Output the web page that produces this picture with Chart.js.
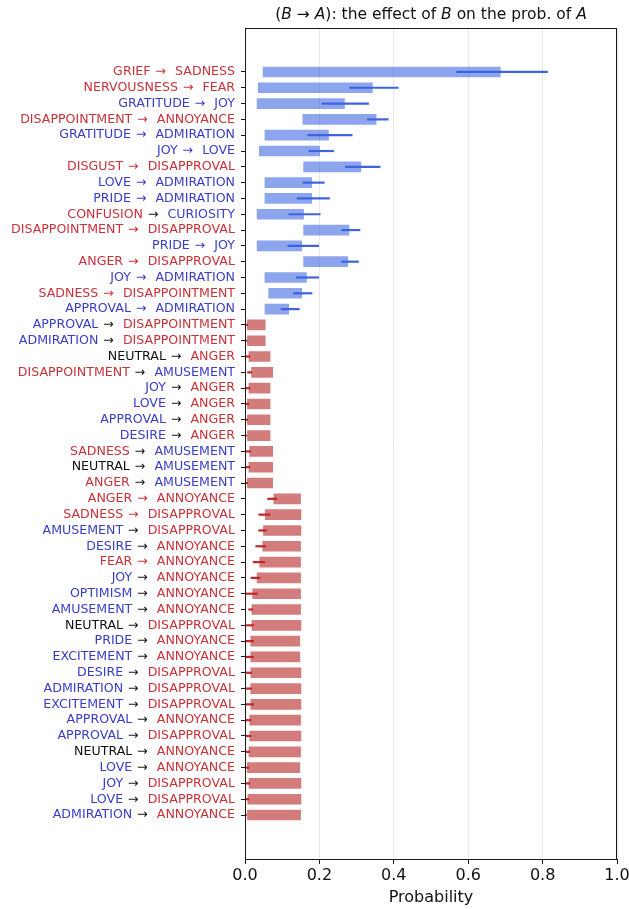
<!DOCTYPE html>
<html lang="en">
<head>
<meta charset="UTF-8">
<title>(B → A): the effect of B on the prob. of A</title>
<script src="https://cdn.jsdelivr.net/npm/chart.js"></script>
<style>
    html, body { margin: 0; padding: 0; background: #ffffff; }
    #chart { display: block; }
</style>
</head>
<body>
<canvas id="chart" width="629" height="909"></canvas>
<script>
    // rows, top to bottom: cause B -> effect A
    const causes = ['GRIEF', 'NERVOUSNESS', 'GRATITUDE', 'DISAPPOINTMENT', 'GRATITUDE', 'JOY', 'DISGUST', 'LOVE',
        'PRIDE', 'CONFUSION', 'DISAPPOINTMENT', 'PRIDE', 'ANGER', 'JOY', 'SADNESS', 'APPROVAL',
        'APPROVAL', 'ADMIRATION', 'NEUTRAL', 'DISAPPOINTMENT', 'JOY', 'LOVE', 'APPROVAL', 'DESIRE',
        'SADNESS', 'NEUTRAL', 'ANGER', 'ANGER', 'SADNESS', 'AMUSEMENT', 'DESIRE', 'FEAR',
        'JOY', 'OPTIMISM', 'AMUSEMENT', 'NEUTRAL', 'PRIDE', 'EXCITEMENT', 'DESIRE', 'ADMIRATION',
        'EXCITEMENT', 'APPROVAL', 'APPROVAL', 'NEUTRAL', 'LOVE', 'JOY', 'LOVE', 'ADMIRATION'];
    const effects = ['SADNESS', 'FEAR', 'JOY', 'ANNOYANCE', 'ADMIRATION', 'LOVE', 'DISAPPROVAL', 'ADMIRATION',
        'ADMIRATION', 'CURIOSITY', 'DISAPPROVAL', 'JOY', 'DISAPPROVAL', 'ADMIRATION', 'DISAPPOINTMENT', 'ADMIRATION',
        'DISAPPOINTMENT', 'DISAPPOINTMENT', 'ANGER', 'AMUSEMENT', 'ANGER', 'ANGER', 'ANGER', 'ANGER',
        'AMUSEMENT', 'AMUSEMENT', 'AMUSEMENT', 'ANNOYANCE', 'DISAPPROVAL', 'DISAPPROVAL', 'ANNOYANCE', 'ANNOYANCE',
        'ANNOYANCE', 'ANNOYANCE', 'ANNOYANCE', 'DISAPPROVAL', 'ANNOYANCE', 'ANNOYANCE', 'DISAPPROVAL', 'DISAPPROVAL',
        'DISAPPROVAL', 'ANNOYANCE', 'DISAPPROVAL', 'ANNOYANCE', 'ANNOYANCE', 'DISAPPROVAL', 'DISAPPROVAL', 'ANNOYANCE'];

    // P(A)
    const priorProb = [0.045, 0.032, 0.029, 0.152, 0.050, 0.035, 0.154, 0.050,
        0.050, 0.029, 0.154, 0.029, 0.154, 0.050, 0.060, 0.050,
        0.058, 0.058, 0.071, 0.078, 0.071, 0.071, 0.071, 0.071,
        0.078, 0.078, 0.078, 0.153, 0.154, 0.154, 0.153, 0.153,
        0.153, 0.153, 0.153, 0.154, 0.151, 0.151, 0.154, 0.154,
        0.154, 0.153, 0.154, 0.153, 0.151, 0.154, 0.154, 0.153];
    // P(A | B)
    const condProb = [0.690, 0.346, 0.271, 0.356, 0.228, 0.204, 0.315, 0.183,
        0.183, 0.161, 0.283, 0.156, 0.280, 0.169, 0.156, 0.121,
        0.003, 0.003, 0.007, 0.014, 0.007, 0.003, 0.003, 0.003,
        0.009, 0.007, 0.003, 0.074, 0.051, 0.046, 0.044, 0.036,
        0.029, 0.017, 0.015, 0.015, 0.012, 0.012, 0.012, 0.012,
        0.012, 0.009, 0.009, 0.007, 0.003, 0.007, 0.004, 0.003];
    // confidence interval of P(A | B)
    const ciLow = [0.568, 0.280, 0.206, 0.328, 0.168, 0.171, 0.269, 0.155,
        0.139, 0.117, 0.259, 0.114, 0.259, 0.137, 0.129, 0.096,
        -0.006, -0.004, -0.004, 0.006, -0.002, -0.006, -0.006, -0.006,
        -0.002, -0.002, -0.006, 0.060, 0.036, 0.036, 0.028, 0.021,
        0.015, 0.000, 0.009, 0.003, 0.000, 0.000, 0.003, 0.003,
        0.000, 0.000, 0.000, -0.004, -0.006, -0.004, -0.005, -0.006];
    const ciHigh = [0.814, 0.413, 0.333, 0.386, 0.289, 0.239, 0.364, 0.214,
        0.228, 0.203, 0.310, 0.199, 0.306, 0.199, 0.181, 0.147,
        0.008, 0.006, 0.014, 0.019, 0.014, 0.011, 0.008, 0.005,
        0.016, 0.014, 0.008, 0.086, 0.068, 0.058, 0.056, 0.054,
        0.041, 0.034, 0.022, 0.024, 0.024, 0.024, 0.019, 0.019,
        0.024, 0.017, 0.017, 0.014, 0.011, 0.014, 0.011, 0.005];

    const xTicks = [0, 0.2, 0.4, 0.6, 0.8, 1.0];

    const negativeEmotions = ['GRIEF', 'SADNESS', 'NERVOUSNESS', 'FEAR', 'DISAPPOINTMENT', 'ANNOYANCE',
        'DISGUST', 'DISAPPROVAL', 'CONFUSION', 'ANGER'];
    const positiveEmotions = ['GRATITUDE', 'JOY', 'ADMIRATION', 'LOVE', 'PRIDE', 'CURIOSITY', 'APPROVAL',
        'AMUSEMENT', 'DESIRE', 'OPTIMISM', 'EXCITEMENT'];

    const FONT = '"DejaVu Sans", sans-serif';
    const RED_TEXT = '#c8323a';
    const BLUE_TEXT = '#3a3ec6';

    function wordColor(w) {
        if (negativeEmotions.includes(w)) return RED_TEXT;
        if (positiveEmotions.includes(w)) return BLUE_TEXT;
        return '#111111';
    }

    const rows = causes.map((c, i) => i);
    const up = rows.map(i => condProb[i] > priorProb[i]);

    const barData = rows.map(i => ({ x: [Math.min(priorProb[i], condProb[i]), Math.max(priorProb[i], condProb[i])], y: i }));
    const errData = rows.map(i => ({ x: [ciLow[i], ciHigh[i]], y: i }));

    // coloured "B -> A" labels next to the y ticks
    const rowLabels = {
        id: 'rowLabels',
        afterDraw(chart) {
            const ctx = chart.ctx;
            const ys = chart.scales.y;
            const right = chart.chartArea.left - 10;
            ctx.save();
            ctx.font = '12.6px ' + FONT;
            ctx.textBaseline = 'middle';
            ctx.textAlign = 'left';
            const gapBefore = 5, gapAfter = 9;
            rows.forEach(i => {
                const y = ys.getPixelForValue(i);
                const cCol = wordColor(causes[i]);
                const eCol = wordColor(effects[i]);
                const aCol = cCol === eCol ? cCol : '#111111';
                const wE = ctx.measureText(effects[i]).width;
                const wA = ctx.measureText('\u2192').width;
                const wC = ctx.measureText(causes[i]).width;
                let x = right - wE - gapAfter - wA - gapBefore - wC;
                ctx.fillStyle = cCol;
                ctx.fillText(causes[i], x, y);
                x += wC + gapBefore;
                ctx.fillStyle = aCol;
                ctx.fillText('\u2192', x, y);
                x += wA + gapAfter;
                ctx.fillStyle = eCol;
                ctx.fillText(effects[i], x, y);
            });
            ctx.restore();
        }
    };

    // frame (top / right spines) and the title with italic letters
    const frameAndTitle = {
        id: 'frameAndTitle',
        afterDraw(chart) {
            const ctx = chart.ctx;
            const a = chart.chartArea;
            ctx.save();
            ctx.strokeStyle = '#1a1a1a';
            ctx.lineWidth = 1;
            ctx.strokeRect(Math.round(a.left) + 0.5, Math.round(a.top) + 0.5,
                Math.round(a.right - a.left) - 1, Math.round(a.bottom - a.top));

            const parts = [['(', false], ['B', true], [' \u2192 ', false], ['A', true], ['): the effect of ', false],
                ['B', true], [' on the prob. of ', false], ['A', true]];
            const size = 15.5;
            let total = 0;
            parts.forEach(p => {
                ctx.font = (p[1] ? 'italic ' : '') + size + 'px ' + FONT;
                total += ctx.measureText(p[0]).width;
            });
            let x = (a.left + a.right) / 2 - total / 2;
            ctx.fillStyle = '#111111';
            ctx.textBaseline = 'middle';
            parts.forEach(p => {
                ctx.font = (p[1] ? 'italic ' : '') + size + 'px ' + FONT;
                ctx.fillText(p[0], x, a.top - 13);
                x += ctx.measureText(p[0]).width;
            });
            ctx.restore();
        }
    };

    const chart = new Chart(document.getElementById('chart'), {
        type: 'bar',
        data: {
            datasets: [
                {
                    label: 'P(A|B) interval',
                    data: errData,
                    grouped: false,
                    order: 1,
                    backgroundColor: rows.map(i => up[i] ? '#3f63e0' : '#c0262b'),
                    borderWidth: 0,
                    categoryPercentage: 1,
                    barPercentage: 0.14
                },
                {
                    label: 'P(A) to P(A|B)',
                    data: barData,
                    grouped: false,
                    order: 2,
                    backgroundColor: rows.map(i => up[i] ? 'rgba(65,105,225,0.6)' : 'rgba(196,80,80,0.75)'),
                    borderColor: 'rgba(255,255,255,0.55)',
                    borderWidth: 1,
                    borderSkipped: false,
                    categoryPercentage: 0.8,
                    barPercentage: 1
                }
            ]
        },
        options: {
            indexAxis: 'y',
            responsive: false,
            animation: false,
            layout: { padding: { top: 28, right: 12, left: 0, bottom: 0 } },
            plugins: {
                legend: { display: false },
                tooltip: { enabled: false }
            },
            scales: {
                y: {
                    type: 'linear',
                    reverse: true,
                    offset: false,
                    min: -2.78,
                    max: 49.78,
                    afterBuildTicks: scale => { scale.ticks = rows.map(i => ({ value: i })); },
                    afterFit: scale => { scale.width = 245; },
                    ticks: { display: false },
                    grid: { offset: false, drawOnChartArea: false, drawTicks: true, tickLength: 4, tickColor: '#1a1a1a' },
                    border: { display: true, color: '#1a1a1a', width: 1 }
                },
                x: {
                    type: 'linear',
                    min: 0,
                    max: 1,
                    afterBuildTicks: scale => { scale.ticks = xTicks.map(v => ({ value: v })); },
                    afterFit: scale => {
                        scale.height = 50;
                        scale.paddingLeft = 0;
                        scale.paddingRight = 0;
                    },
                    ticks: {
                        callback: v => v.toFixed(1),
                        color: '#111111',
                        font: { family: FONT, size: 16 },
                        padding: 2,
                        maxRotation: 0
                    },
                    grid: { color: '#e6e6e6', lineWidth: 1, drawTicks: true, tickLength: 5, tickColor: '#1a1a1a' },
                    border: { display: true, color: '#1a1a1a', width: 1 },
                    title: {
                        display: true,
                        text: 'Probability',
                        color: '#111111',
                        font: { family: FONT, size: 16 },
                        padding: { top: 0, bottom: 2 }
                    }
                }
            }
        },
        plugins: [rowLabels, frameAndTitle]
    });
</script>
</body>
</html>
